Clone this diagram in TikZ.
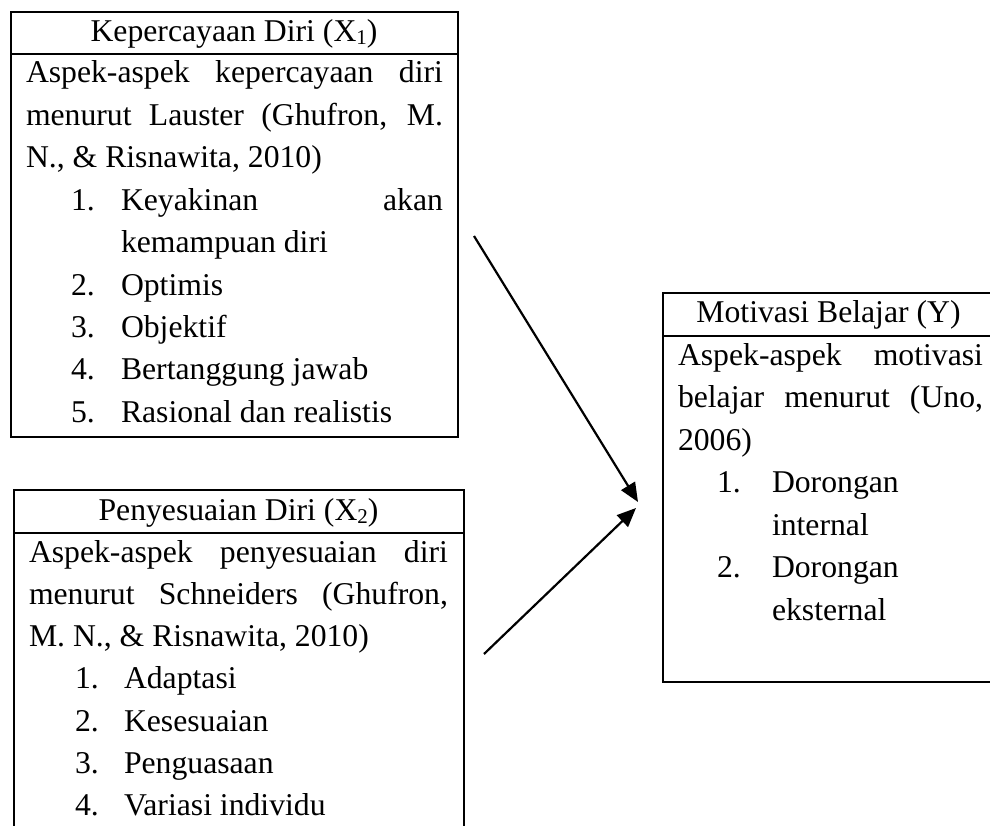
\documentclass[tikz,border=0pt]{standalone}
\usepackage{fontspec}
\setmainfont{Liberation Serif}
\usetikzlibrary{arrows.meta}
\tikzset{
  frame/.style={draw, line width=2.2pt, inner sep=0pt, outer sep=0pt, anchor=north west},
  txt/.style={anchor=base west, inner sep=0pt, outer sep=0pt, font=\fontsize{31.7pt}{42pt}\selectfont},
  hdr/.style={anchor=base, inner sep=0pt, outer sep=0pt, font=\fontsize{31.7pt}{42pt}\selectfont},
  link/.style={line width=2.2pt, -{Triangle[length=19pt,width=16pt]}},
}
\newcommand{\jl}[2]{\makebox[#1][s]{#2}}
\newcommand{\mysub}[1]{\raisebox{-3pt}{\fontsize{21pt}{21pt}\selectfont #1}}
\begin{document}
\begin{tikzpicture}[x=1pt,y=-1pt]
\path[use as bounding box] (0,0) rectangle (990,826);
\begin{scope}
\clip (0,0) rectangle (990,826);
% ---------- Box 1 ----------
\node[frame, minimum width=447pt, minimum height=42pt] (h1) at (11,12) {};
\node[frame, minimum width=447pt, minimum height=383pt] (b1) at (11,54) {};
\node[hdr] (t1) at (234,42) {Kepercayaan Diri (X\mysub{1})};
\node[txt] (l11) at (26,83) {\jl{417pt}{Aspek-aspek kepercayaan diri}};
\node[txt] (l12) at (26,125.4) {\jl{417pt}{menurut Lauster (Ghufron, M.}};
\node[txt] (l13) at (26,167.8) {N., \& Risnawita, 2010)};
\node[txt] (n11) at (71,210.2) {1.};
\node[txt] (i11) at (121,210.2) {\jl{322pt}{Keyakinan akan}};
\node[txt] (i11b) at (121,252.6) {kemampuan diri};
\node[txt] (n12) at (71,295) {2.};
\node[txt] (i12) at (121,295) {Optimis};
\node[txt] (n13) at (71,337.4) {3.};
\node[txt] (i13) at (121,337.4) {Objektif};
\node[txt] (n14) at (71,379.8) {4.};
\node[txt] (i14) at (121,379.8) {Bertanggung jawab};
\node[txt] (n15) at (71,422.2) {5.};
\node[txt] (i15) at (121,422.2) {Rasional dan realistis};
% ---------- Box 2 ----------
\node[frame, minimum width=450pt, minimum height=43pt] (h2) at (14,490) {};
\node[frame, minimum width=450pt, minimum height=320pt] (b2) at (14,533) {};
\node[hdr] (t2) at (238.5,520) {Penyesuaian Diri (X\mysub{2})};
\node[txt] (l21) at (29,562) {\jl{419pt}{Aspek-aspek penyesuaian diri}};
\node[txt] (l22) at (29,604) {\jl{419pt}{menurut Schneiders (Ghufron,}};
\node[txt] (l23) at (29,646) {M. N., \& Risnawita, 2010)};
\node[txt] (n21) at (75,688.5) {1.};
\node[txt] (i21) at (124,688.5) {Adaptasi};
\node[txt] (n22) at (75,731) {2.};
\node[txt] (i22) at (124,731) {Kesesuaian};
\node[txt] (n23) at (75,773) {3.};
\node[txt] (i23) at (124,773) {Penguasaan};
\node[txt] (n24) at (75,815) {4.};
\node[txt] (i24) at (124,815) {Variasi individu};
% ---------- Box 3 ----------
\node[frame, minimum width=333pt, minimum height=43pt] (h3) at (663,293) {};
\node[frame, minimum width=333pt, minimum height=346pt] (b3) at (663,336) {};
\node[hdr] (t3) at (828.5,322) {Motivasi Belajar (Y)};
\node[txt] (l31) at (678,365) {\jl{305pt}{Aspek-aspek motivasi}};
\node[txt] (l32) at (678,407.5) {\jl{305pt}{belajar menurut (Uno,}};
\node[txt] (l33) at (678,450) {2006)};
\node[txt] (n31) at (717,492.5) {1.};
\node[txt] (i31) at (772,492.5) {Dorongan};
\node[txt] (i31b) at (772,535) {internal};
\node[txt] (n32) at (717,577.5) {2.};
\node[txt] (i32) at (772,577.5) {Dorongan};
\node[txt] (i32b) at (772,620) {eksternal};
% ---------- Arrows ----------
\coordinate (a1s) at (474,236);
\coordinate (a1e) at (638,502);
\coordinate (a2s) at (484,654);
\coordinate (a2e) at (636,508);
\draw[link] (a1s) -- (a1e);
\draw[link] (a2s) -- (a2e);
\end{scope}
\end{tikzpicture}
\end{document}
